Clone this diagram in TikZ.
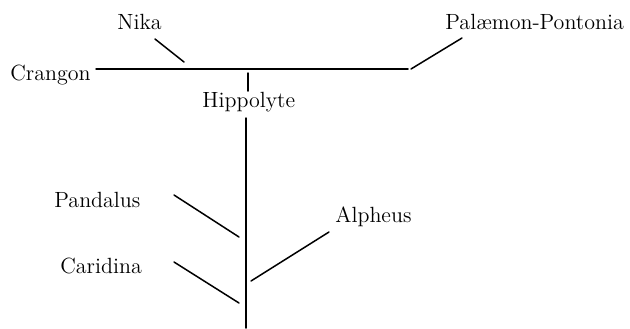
\documentclass[tikz,border=0pt]{standalone}
\begin{document}
\begin{tikzpicture}[x=0.5pt,y=-0.5pt,
  label/.style={inner sep=0pt,anchor=base west,font=\fontsize{11}{13}\selectfont},
  stroke/.style={line width=0.75pt,line cap=round}]
\useasboundingbox (0,0) rectangle (630,328);

% genus names
\node[label] (nika)    at (117,29)  {Nika};
\node[label] (crangon) at (10,80)   {Crangon};
\node[label] (hippo)   at (202,107) {Hippolyte};
\node[label] (palaemon) at (445,29) {Palæmon-Pontonia};
\node[label] (pandalus) at (54,207) {Pandalus};
\node[label] (alpheus) at (335,222) {Alpheus};
\node[label] (caridina) at (60,273) {Caridina};

% end points of the strokes
\coordinate (hL) at (96,69);
\coordinate (hR) at (408,69);
\coordinate (nikaA) at (155,39);
\coordinate (nikaB) at (184,62);
\coordinate (palA) at (462,38);
\coordinate (palB) at (411,69);
\coordinate (tickA) at (248,73);
\coordinate (tickB) at (248,91);
\coordinate (stemA) at (246,118);
\coordinate (stemB) at (246,328);
\coordinate (panA) at (174,195);
\coordinate (panB) at (239,237);
\coordinate (alpA) at (329,232);
\coordinate (alpB) at (251,281);
\coordinate (carA) at (174,262);
\coordinate (carB) at (239,303);

% main horizontal branch and its side strokes
\draw[stroke] (hL) -- (hR);
\draw[stroke] (nikaA) -- (nikaB);
\draw[stroke] (palA) -- (palB);
\draw[stroke] (tickA) -- (tickB);

% vertical stem and its side strokes
\draw[stroke] (stemA) -- (stemB);
\draw[stroke] (panA) -- (panB);
\draw[stroke] (alpA) -- (alpB);
\draw[stroke] (carA) -- (carB);
\end{tikzpicture}
\end{document}
